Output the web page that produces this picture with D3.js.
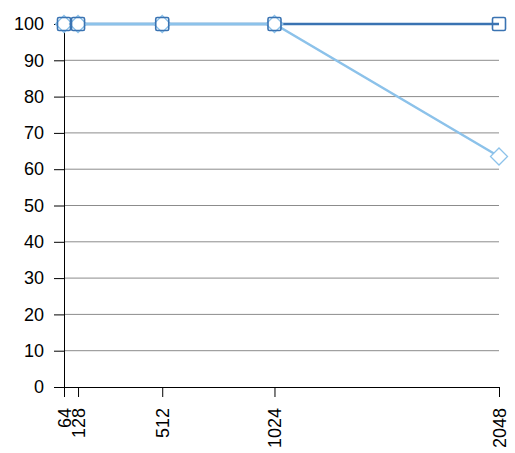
<!DOCTYPE html>
<html>
<head>
<meta charset="utf-8">
<script src="https://cdn.jsdelivr.net/npm/d3@7"></script>
<style>
  body { margin: 0; background: #fff; }
  svg text { font-family: "Liberation Sans", Arial, sans-serif; }
</style>
</head>
<body>
<div id="chart"></div>
<script>
// values
var sizes = [64, 128, 512, 1024, 2048];
var darkSeries = [100, 100, 100, 100, 100];
var lightSeries = [100, 100, 100, 100, 63.5];
var yTicks = [0, 10, 20, 30, 40, 50, 60, 70, 80, 90, 100];

var margin = { top: 24, right: 16, bottom: 66, left: 64 };
var width = 515 - margin.left - margin.right;
var height = 453 - margin.top - margin.bottom;

var svg = d3.select("#chart").append("svg")
    .attr("width", 515)
    .attr("height", 453);

var g = svg.append("g")
    .attr("transform", "translate(" + margin.left + "," + margin.top + ")");

var x = d3.scaleLinear().domain([64, 2048]).range([0, width]);
var y = d3.scaleLinear().domain([0, 100]).range([height, 0]);

// horizontal grid
g.append("g")
    .selectAll("line")
    .data(yTicks.filter(function(d) { return d > 0; }))
    .enter().append("line")
    .attr("x1", 0)
    .attr("x2", width)
    .attr("y1", function(d) { return y(d); })
    .attr("y2", function(d) { return y(d); })
    .style("stroke", "#8c8c8c")
    .style("stroke-width", 1);

// y axis
var yAxis = g.append("g")
    .call(d3.axisLeft(y).tickValues(yTicks).tickSize(10).tickPadding(10));
yAxis.select(".domain").remove();
yAxis.append("line")
    .attr("x1", 0.5).attr("x2", 0.5)
    .attr("y1", y(100)).attr("y2", height + 10)
    .style("stroke", "#000");
yAxis.selectAll("text").style("font-size", "18px").style("fill", "#000");
yAxis.selectAll(".tick line").style("stroke", "#000");

// x axis
var xAxis = g.append("g")
    .attr("transform", "translate(0," + height + ")")
    .call(d3.axisBottom(x).tickValues(sizes).tickFormat(d3.format("d")).tickSize(10));
xAxis.select(".domain").remove();
xAxis.append("line")
    .attr("x1", 0).attr("x2", width)
    .attr("y1", 0.5).attr("y2", 0.5)
    .style("stroke", "#000");
xAxis.selectAll(".tick line").style("stroke", "#000");
xAxis.selectAll("text")
    .style("font-size", "18px")
    .style("fill", "#000")
    .attr("text-anchor", "end")
    .attr("transform", "rotate(-90)")
    .attr("x", -21)
    .attr("y", 0)
    .attr("dy", "0.35em");

var line = d3.line()
    .x(function(d, i) { return x(sizes[i]); })
    .y(function(d) { return y(d); });

var darkColor = "#3a73b2";
var lightColor = "#8cc2ea";

g.append("path")
    .datum(darkSeries)
    .attr("d", line)
    .style("fill", "none")
    .style("stroke", darkColor)
    .style("stroke-width", 2.5);

g.append("path")
    .datum(lightSeries)
    .attr("d", line)
    .style("fill", "none")
    .style("stroke", lightColor)
    .style("stroke-width", 2.5);

// light diamonds
g.selectAll(".diamond")
    .data(lightSeries)
    .enter().append("path")
    .attr("class", "diamond")
    .attr("transform", function(d, i) { return "translate(" + x(sizes[i]) + "," + y(d) + ")"; })
    .attr("d", "M0,-8.5L8.5,0L0,8.5L-8.5,0Z")
    .style("fill", "#fff")
    .style("stroke", lightColor)
    .style("stroke-width", 1.3);

// dark squares
g.selectAll(".square")
    .data(darkSeries)
    .enter().append("rect")
    .attr("class", "square")
    .attr("x", function(d, i) { return x(sizes[i]) - 6.5; })
    .attr("y", function(d) { return y(d) - 6.5; })
    .attr("width", 13)
    .attr("height", 13)
    .attr("rx", 1.5)
    .style("fill", "none")
    .style("stroke", darkColor)
    .style("stroke-width", 1.6);
</script>
</body>
</html>
